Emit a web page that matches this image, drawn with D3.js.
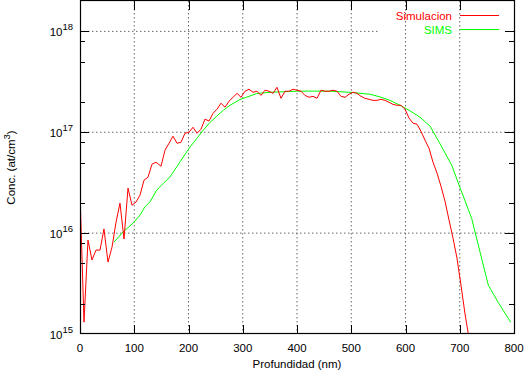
<!DOCTYPE html>
<html>
<head>
<meta charset="utf-8">
<script src="https://cdn.jsdelivr.net/npm/d3@7"></script>
<style>
  body { margin: 0; background: #fff; }
  svg text { font-family: "Liberation Sans", Arial, Helvetica, sans-serif; }
</style>
</head>
<body>
<script>
// Simulacion (red) - depth in nm, concentration in at/cm3
var simDepth = [0, 7.4, 14.7, 22.1, 29.5, 36.9, 44.2, 51.6, 59.0, 66.4,
    73.7, 81.1, 88.5, 95.9, 103.2, 110.6, 118.0, 125.3, 132.7, 140.1,
    149.3, 156.7, 164.1, 171.4, 178.8, 186.2, 193.5, 200.9, 208.3, 215.7,
    223.0, 230.4, 237.8, 245.2, 252.5, 259.9, 267.3, 274.7, 282.0, 289.4,
    296.8, 304.1, 311.5, 318.9, 326.3, 333.6, 341.0, 348.4, 355.8, 363.1,
    370.5, 377.9, 385.3, 392.6, 400.0, 407.4, 414.7, 422.1, 429.5, 436.9,
    444.2, 451.6, 459.0, 466.4, 473.7, 481.1, 488.5, 495.9, 503.2, 510.6,
    518.0, 525.3, 532.7, 540.1, 547.5, 554.8, 562.2, 569.6, 576.9, 584.3,
    591.7, 599.1, 606.5, 613.8, 621.2, 628.6, 636.0, 643.3, 650.7, 658.1,
    665.4, 672.8, 680.2, 687.6, 694.9, 702.3, 709.7, 717.1];
var simConc = [2.49e16, 1.31e15, 8.53e15, 5.41e15, 6.79e15, 6.79e15, 1.10e16, 5.16e15, 7.26e15, 1.28e16,
    1.98e16, 8.73e15, 2.79e16, 1.89e16, 2.03e16, 2.38e16, 3.35e16, 3.58e16, 4.82e16, 5.05e16,
    4.60e16, 6.64e16, 7.78e16, 9.13e16, 7.78e16, 7.96e16, 9.77e16, 1.00e17, 1.12e17, 9.77e16,
    1.07e17, 1.35e17, 1.29e17, 1.54e17, 1.69e17, 1.94e17, 1.77e17, 2.03e17, 2.22e17, 2.43e17,
    2.22e17, 2.55e17, 2.67e17, 2.49e17, 2.55e17, 2.32e17, 2.61e17, 2.55e17, 2.43e17, 2.79e17,
    2.17e17, 2.55e17, 2.55e17, 2.67e17, 2.61e17, 2.55e17, 2.32e17, 2.22e17, 2.27e17, 2.17e17,
    2.61e17, 2.55e17, 2.55e17, 2.61e17, 2.55e17, 2.27e17, 2.22e17, 2.38e17, 2.49e17, 2.43e17,
    2.27e17, 2.17e17, 2.12e17, 2.07e17, 2.07e17, 2.12e17, 2.07e17, 1.98e17, 1.89e17, 1.85e17,
    1.85e17, 1.69e17, 1.38e17, 1.23e17, 1.20e17, 1.02e17, 8.33e16, 6.95e16, 5.05e16, 3.93e16,
    2.92e16, 2.07e16, 1.35e16, 8.91e15, 5.65e15, 3.05e15, 1.58e15, 9.1e14];

// SIMS (green)
var simsDepth = [62.7, 81.1, 98.2, 110.6, 119.3, 129.0, 141.4, 153.5, 165.9, 178.2,
    190.4, 202.8, 215.1, 227.3, 239.6, 252.0, 264.1, 276.5, 294.9, 325.7,
    350.2, 399.4, 423.9, 460.8, 497.7, 534.6, 553.0, 571.4, 589.9, 608.3,
    626.7, 645.2, 663.6, 685.2, 700.5, 722.0, 752.6, 771.0, 793.9];
var simsConc = [8.15e15, 1.05e16, 1.26e16, 1.51e16, 1.81e16, 2.04e16, 2.67e16, 3.11e16, 3.61e16, 4.53e16,
    5.69e16, 7.14e16, 8.66e16, 1.05e17, 1.25e17, 1.44e17, 1.65e17, 1.85e17, 2.11e17, 2.42e17,
    2.49e17, 2.55e17, 2.56e17, 2.55e17, 2.49e17, 2.38e17, 2.24e17, 2.07e17, 1.85e17, 1.63e17,
    1.41e17, 1.15e17, 7.69e16, 4.71e16, 2.82e16, 1.40e16, 3.05e15, 2.05e15, 1.31e15];

var xTicks = [0, 100, 200, 300, 400, 500, 600, 700, 800];
var yTicks = [1e15, 1e16, 1e17, 1e18];
var yExps = ["15", "16", "17", "18"];
var yMinor = [2e15, 5e15, 8e15, 2e16, 5e16, 8e16, 2e17, 5e17, 8e17];

var width = 524,
    height = 372,
    plotLeft = 80,
    plotRight = 514,
    plotTop = 1,
    plotBottom = 334;

var svg = d3.select("body")
    .append("svg")
    .attr("width", width)
    .attr("height", height);

var xScale = d3.scaleLinear()
    .domain([0, 800])
    .range([plotLeft, plotRight]);

var yScale = d3.scaleLog()
    .domain([1e15, 2e18])
    .range([plotBottom, plotTop]);

// legend box, the 1e18 grid line stops at its left edge
var keyLeft = 380, keyBottom = 38;

// grid
svg.selectAll("line.gridx")
    .data(xTicks.slice(1, -1))
    .enter()
    .append("line")
        .attr("x1", function(d) { return xScale(d); })
        .attr("x2", function(d) { return xScale(d); })
        .attr("y1", plotTop)
        .attr("y2", plotBottom)
        .attr("stroke", "#666")
        .attr("stroke-dasharray", "1.5,2.5");

svg.selectAll("line.gridy")
    .data(yTicks.slice(1))
    .enter()
    .append("line")
        .attr("x1", plotLeft)
        .attr("x2", function(d) { return yScale(d) < keyBottom ? keyLeft : plotRight; })
        .attr("y1", function(d) { return yScale(d); })
        .attr("y2", function(d) { return yScale(d); })
        .attr("stroke", "#666")
        .attr("stroke-dasharray", "1.5,2.5");

// clip the curves to the frame
svg.append("clipPath")
    .attr("id", "plot")
    .append("rect")
        .attr("x", plotLeft)
        .attr("y", plotTop)
        .attr("width", plotRight - plotLeft)
        .attr("height", plotBottom - plotTop);

var line = d3.line()
    .x(function(d) { return xScale(d[0]); })
    .y(function(d) { return yScale(d[1]); });

svg.append("path")
    .datum(d3.zip(simsDepth, simsConc))
    .attr("clip-path", "url(#plot)")
    .attr("d", line)
    .attr("fill", "none")
    .attr("stroke", "#00ff00")
    .attr("stroke-width", 1);

svg.append("path")
    .datum(d3.zip(simDepth, simConc))
    .attr("clip-path", "url(#plot)")
    .attr("d", line)
    .attr("fill", "none")
    .attr("stroke", "#ff0000")
    .attr("stroke-width", 1);

// ticks (mirrored on all four sides)
var ticks = svg.append("g")
    .attr("stroke", "#000")
    .attr("shape-rendering", "crispEdges");

xTicks.slice(1, -1).forEach(function(d) {
    var x = Math.round(xScale(d)) + 0.5;
    ticks.append("line").attr("x1", x).attr("x2", x).attr("y1", plotBottom).attr("y2", plotBottom - 9);
    ticks.append("line").attr("x1", x).attr("x2", x).attr("y1", plotTop).attr("y2", plotTop + 9);
});
yTicks.slice(1).forEach(function(d) {
    var y = Math.round(yScale(d)) + 0.5;
    ticks.append("line").attr("x1", plotLeft).attr("x2", plotLeft + 9).attr("y1", y).attr("y2", y);
    ticks.append("line").attr("x1", plotRight).attr("x2", plotRight - 9).attr("y1", y).attr("y2", y);
});
yMinor.forEach(function(d) {
    var y = Math.round(yScale(d)) + 0.5;
    ticks.append("line").attr("x1", plotLeft).attr("x2", plotLeft + 5).attr("y1", y).attr("y2", y);
    ticks.append("line").attr("x1", plotRight).attr("x2", plotRight - 5).attr("y1", y).attr("y2", y);
});

// frame
svg.append("rect")
    .attr("x", plotLeft + 0.5)
    .attr("y", plotTop - 0.5)
    .attr("width", plotRight - plotLeft)
    .attr("height", plotBottom - plotTop)
    .attr("fill", "none")
    .attr("stroke", "#000")
    .attr("stroke-width", 1.2);

// tick labels
svg.selectAll("text.xlab")
    .data(xTicks)
    .enter()
    .append("text")
        .attr("x", function(d) { return xScale(d); })
        .attr("y", 351.5)
        .attr("text-anchor", "middle")
        .style("font-size", "11.5px")
        .text(function(d) { return d; });

var ylab = svg.selectAll("text.ylab")
    .data(yTicks)
    .enter()
    .append("text")
        .attr("x", 73)
        .attr("y", function(d) { return yScale(d) + 4.5; })
        .attr("text-anchor", "end")
        .style("font-size", "11.5px");
ylab.append("tspan").text("10");
ylab.append("tspan")
    .attr("dy", -6)
    .style("font-size", "9.5px")
    .text(function(d, i) { return yExps[i]; });

// axis titles
svg.append("text")
    .attr("x", (plotLeft + plotRight) / 2)
    .attr("y", 367.5)
    .attr("text-anchor", "middle")
    .style("font-size", "11.5px")
    .text("Profundidad (nm)");

var yt = svg.append("text")
    .attr("transform", "translate(15," + ((plotTop + plotBottom) / 2) + ") rotate(-90)")
    .attr("text-anchor", "middle")
    .style("font-size", "11.5px");
yt.append("tspan").text("Conc. (at/cm");
yt.append("tspan").attr("dy", -5).style("font-size", "9.5px").text("3");
yt.append("tspan").attr("dy", 5).text(")");

// legend
var keys = [["Simulacion", "#ff0000", 15.5], ["SIMS", "#00ff00", 29.5]];
keys.forEach(function(k) {
    svg.append("text")
        .attr("x", 452)
        .attr("y", k[2] + 4)
        .attr("text-anchor", "end")
        .attr("fill", k[1])
        .style("font-size", "11.5px")
        .text(k[0]);
    svg.append("line")
        .attr("x1", 460)
        .attr("x2", 499)
        .attr("y1", k[2])
        .attr("y2", k[2])
        .attr("stroke", k[1])
        .attr("stroke-width", 1);
});
</script>
</body>
</html>
